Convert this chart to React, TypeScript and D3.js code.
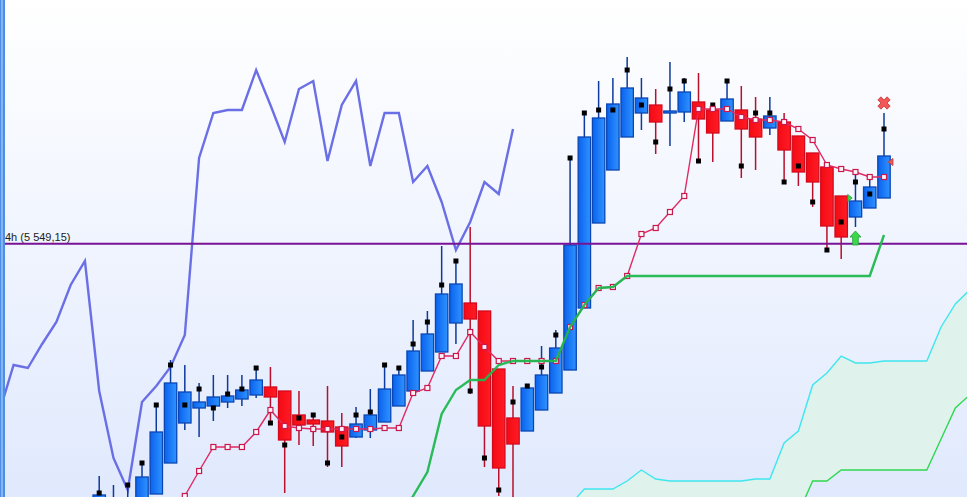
import React from "react";
import * as d3 from "d3";

const W = 967, H = 497, LEFT = 5;
const opens = [5268,5263,5263,5283,5299,5330,5370,5385,5387,5391,5394,5398,5406,5402,5378,5373,5372,5366,5356,5363,5371,5387,5402,5422,5441,5470,5490,5482,5424,5375,5362,5383,5400,5423,5485,5570,5623,5656,5680,5688,5680,5681,5691,5683,5672,5683,5674,5665,5671,5657,5640,5626,5597,5576,5585,5595];
const closes = [5298,5288,5293,5316,5361,5410,5401,5391,5396,5397,5403,5413,5396,5353,5368,5369,5361,5347,5369,5378,5404,5418,5442,5459,5499,5509,5474,5367,5325,5349,5405,5418,5445,5548,5656,5675,5689,5705,5695,5671,5682,5701,5674,5660,5694,5664,5656,5677,5643,5621,5611,5567,5556,5592,5606,5637];
const highs = [5317,5308,5310,5330,5388,5433,5428,5410,5418,5418,5418,5425,5426,5402,5402,5380,5407,5380,5386,5404,5428,5425,5473,5482,5547,5532,5566,5482,5424,5407,5407,5447,5463,5635,5680,5712,5715,5736,5715,5704,5731,5715,5720,5688,5712,5707,5696,5696,5680,5657,5640,5626,5597,5624,5619,5680];
const lows = [5250,5250,5250,5270,5299,5330,5363,5356,5372,5385,5387,5395,5370,5300,5348,5347,5326,5326,5355,5355,5371,5387,5402,5422,5441,5449,5399,5326,5297,5250,5362,5383,5400,5423,5485,5570,5623,5656,5663,5639,5647,5671,5630,5631,5672,5615,5623,5658,5611,5607,5586,5543,5534,5566,5585,5595];
const lagging = [5300,5263,5308,5330,5388,5428,5388,5404,5385,5399,5404,5425,5370,5348,5375,5378,5330,5356,5378,5381,5428,5425,5449,5471,5508,5532,5402,5335,5303,5391,5407,5426,5458,5635,5680,5683,5683,5723,5688,5651,5704,5712,5632,5688,5712,5627,5680,5680,5611,5627,5591,5543,5571,5611,5599,5664];
const lagShift = 26;
const tenkanStart = 5;
const tenkan = [5263,5297,5322,5346,5346,5346,5361,5383,5367,5365,5364,5364,5364,5364,5364,5365,5365,5400,5405,5437,5437,5461,5446,5432,5432,5432,5432,5432,5466,5488,5505,5506,5517,5559,5565,5581,5597,5684,5684,5684,5676,5673,5673,5671,5664,5653,5628,5624,5621,5616,5616];
const kijunStart = 21;
const kijun = [5273,5297,5321,5379,5403,5413,5413,5428,5432,5432,5432,5432,5466,5488,5505,5506,5517,5517,5517,5517,5517,5517,5517,5517,5517,5517,5517,5517,5517,5517,5517,5517,5517,5517,5558];
const cloudStart = 33;
const spanA = [5288,5304,5304,5304,5312,5323,5314,5312,5312,5312,5312,5312,5312,5314,5314,5350,5362,5408,5420,5437,5430,5430,5432,5432,5432,5432,5466,5489,5503];
const spanB = [5200,5200,5200,5200,5200,5200,5200,5200,5200,5200,5200,5200,5200,5200,5240,5270,5280,5312,5312,5323,5323,5323,5323,5323,5323,5323,5354,5385,5398];
const level = 5549.15;
const levelLabel = "4h (5 549,15)";
const buyArrowBar = 53, buyArrowPrice = 5562;
const buyFlagBar = 52, buyFlagPrice = 5595;
const sellFlagBar = 55, sellFlagPrice = 5631;
const exitBar = 55, exitPrice = 5690;

const x = d3.scaleLinear().domain([0, 55]).range([99.2, 884]);
const y = d3.scaleLinear().domain([5296, 5793]).range([497, 0]);

export default function App() {
  const barW = 12.4;
  const lagLine = d3.line<number>().x((_, i) => x(i - lagShift)).y((d) => y(d))(lagging) as string;
  const tenkanPath = d3.line<number>().x((_, i) => x(i + tenkanStart)).y((d) => y(d))(tenkan) as string;
  const kijunPath = d3.line<number>().x((_, i) => x(i + kijunStart)).y((d) => y(d))(kijun) as string;
  const spanAPath = d3.line<number>().x((_, i) => x(i + cloudStart)).y((d) => y(d))(spanA) as string;
  const spanBPath = d3.line<number>().x((_, i) => x(i + cloudStart)).y((d) => y(d))(spanB) as string;
  const area = d3.area<number>().x((_, i) => x(i + cloudStart)).y0((_, i) => y(spanB[i])).y1((d) => y(d))(spanA) as string;
  const cross = d3.symbol(d3.symbolCross, 95)() as string;
  return (
    <svg width={W} height={H} style={{ position: "absolute", left: 0, top: 0, display: "block" }}>
      <defs>
        <linearGradient id="bg" x1="0" y1="0" x2="0" y2="1">
          <stop offset="0" stopColor="#ffffff" />
          <stop offset="1" stopColor="#e0e9fd" />
        </linearGradient>
        <linearGradient id="blueBody" x1="0" y1="0" x2="1" y2="0">
          <stop offset="0" stopColor="#0a62ee" />
          <stop offset="1" stopColor="#2f93ff" />
        </linearGradient>
        <linearGradient id="redBody" x1="0" y1="0" x2="1" y2="0">
          <stop offset="0" stopColor="#f40a14" />
          <stop offset="1" stopColor="#ff1c24" />
        </linearGradient>
        <clipPath id="plot"><rect x={LEFT} y={0} width={W - LEFT} height={H} /></clipPath>
      </defs>
      <rect width={W} height={H} fill="url(#bg)" />
      <g clipPath="url(#plot)">
        <path d={area} fill="#dff3ec" />
        <path d={spanAPath} fill="none" stroke="#3fe6ee" strokeWidth={1.4} />
        <path d={spanBPath} fill="none" stroke="#2fd84e" strokeWidth={1.4} />
        <path d={lagLine} fill="none" stroke="#6b6fe6" strokeWidth={2.4} />
        {opens.map((o, i) => {
          const c = closes[i];
          const up = c >= o;
          return (
            <line key={"w" + i} x1={x(i)} x2={x(i)} y1={y(highs[i])} y2={y(lows[i])}
              stroke={up ? "#0d3a9c" : "#b80f2c"} strokeWidth={1.5} />
          );
        })}
        {opens.map((o, i) => {
          const c = closes[i];
          const up = c >= o;
          return (
            <rect key={"b" + i} x={x(i) - barW / 2} width={barW} y={y(Math.max(o, c))}
              height={Math.abs(y(o) - y(c))} fill={up ? "url(#blueBody)" : "url(#redBody)"}
              stroke={up ? "#0a46b4" : "#d40a1c"} strokeWidth={1.3} />
          );
        })}
        {lagging.map((v, i) => (
          <rect key={"d" + i} x={x(i) - 2.5} y={y(v) - 2.5} width={5} height={5} fill="#000" />
        ))}
        <line x1={LEFT} x2={W} y1={y(level)} y2={y(level)} stroke="#7a1296" strokeWidth={2} />
        <path d={tenkanPath} fill="none" stroke="#e02a62" strokeWidth={1.4} />
        {tenkan.map((v, i) => (
          <rect key={"t" + i} x={x(i + tenkanStart) - 2.5} y={y(v) - 2.5} width={5} height={5}
            fill="#fdf4f8" stroke="#c8184e" strokeWidth={1.2} />
        ))}
        <path d={kijunPath} fill="none" stroke="#1fb84e" strokeWidth={2.4} opacity={0.95} />
        <g transform={`translate(${x(buyArrowBar)},${y(buyArrowPrice)})`}>
          <path d="M0,0 L5.5,6 L2.8,6 L2.8,14 L-2.8,14 L-2.8,6 L-5.5,6 Z" fill="#3cd84a" stroke="#1f9e3a" strokeWidth={0.8} />
        </g>
        <g transform={`translate(${x(buyFlagBar) + 6.5},${y(buyFlagPrice)})`}>
          <path d="M0,-3.5 L4.5,0 L0,3.5 Z" fill="#3cd84a" stroke="#1f9e3a" strokeWidth={0.8} />
        </g>
        <g transform={`translate(${x(sellFlagBar) + 4},${y(sellFlagPrice)})`}>
          <path d="M5,-3.5 L0,0 L5,3.5 Z" fill="#ee5a5a" stroke="#b83a3a" strokeWidth={0.8} />
        </g>
        <g transform={`translate(${x(exitBar)},${y(exitPrice)}) rotate(45)`}>
          <path d={cross} fill="#f25656" stroke="#c23a3a" strokeWidth={0.8} />
        </g>
        <text x={LEFT} y={y(level) - 2.5} fontFamily="Liberation Sans, Arial, sans-serif" fontSize={11} fill="#222">{levelLabel}</text>
      </g>
      <rect x={0} y={0} width={LEFT} height={H} fill="#4d8fe6" />
      <rect x={1} y={0} width={2} height={H} fill="#86b4f0" />
    </svg>
  );
}
